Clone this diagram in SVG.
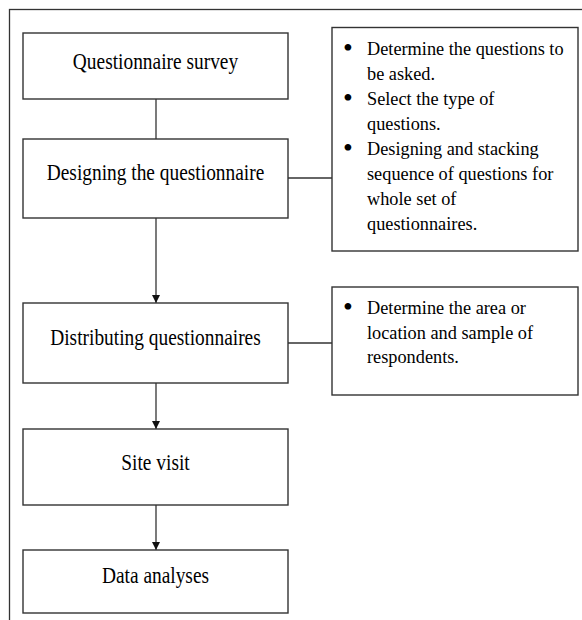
<svg xmlns="http://www.w3.org/2000/svg" width="582" height="620" viewBox="0 0 582 620">
<defs>
<style>
.box{fill:#fff;stroke:#333;stroke-width:1.4}
.ln{fill:none;stroke:#333;stroke-width:1.3}
.t{font-family:"Liberation Serif","Times New Roman",serif;font-size:19.4px;fill:#000;text-anchor:middle}
.b{font-family:"Liberation Serif","Times New Roman",serif;font-size:18.3px;fill:#000}
.d{font-family:"Liberation Serif","Times New Roman",serif;font-size:28px;fill:#000;text-anchor:middle}
</style>
<marker id="ah" viewBox="0 0 10 10" refX="10" refY="5" markerWidth="8" markerHeight="10" markerUnits="userSpaceOnUse" orient="auto">
<path d="M0,0 L10,5 L0,10 Z" fill="#111"/>
</marker>
</defs>
<rect x="0" y="0" width="582" height="620" fill="#fff"/>
<rect id="frame" x="9.5" y="9.5" width="620" height="700" fill="none" stroke="#333" stroke-width="1.3"/>
<g id="connectors">
<line class="ln" x1="156" y1="99" x2="156" y2="139"/>
<line class="ln" x1="156" y1="218" x2="156" y2="303" marker-end="url(#ah)"/>
<line class="ln" x1="156" y1="383" x2="156" y2="429" marker-end="url(#ah)"/>
<line class="ln" x1="156" y1="505" x2="156" y2="550" marker-end="url(#ah)"/>
<line class="ln" x1="288" y1="178" x2="332" y2="178"/>
<line class="ln" x1="288" y1="343" x2="332" y2="343"/>
</g>
<g id="n1"><rect class="box" x="23" y="33" width="265" height="66"/>
<text class="t" transform="translate(155.5,69) scale(1,1.22)">Questionnaire survey</text></g>
<g id="n2"><rect class="box" x="23" y="139" width="265" height="79"/>
<text class="t" transform="translate(155.5,180) scale(1,1.22)">Designing the questionnaire</text></g>
<g id="n3"><rect class="box" x="23" y="303" width="265" height="80"/>
<text class="t" transform="translate(155.5,345) scale(1,1.22)">Distributing questionnaires</text></g>
<g id="n4"><rect class="box" x="23" y="429" width="265" height="76"/>
<text class="t" transform="translate(155.5,470) scale(1,1.22)">Site visit</text></g>
<g id="n5"><rect class="box" x="23" y="550" width="265" height="63"/>
<text class="t" transform="translate(155.5,583) scale(1,1.22)">Data analyses</text></g>
<g id="note1"><rect class="box" x="332" y="27.5" width="246" height="223.5"/>
<text class="d" x="348" y="57">•</text>
<text class="d" x="348" y="107">•</text>
<text class="d" x="348" y="157">•</text>
<g class="b">
<text transform="translate(367,55) scale(1,1.06)">Determine the questions to</text>
<text transform="translate(367,80) scale(1,1.06)">be asked.</text>
<text transform="translate(367,105) scale(1,1.06)">Select the type of</text>
<text transform="translate(367,130) scale(1,1.06)">questions.</text>
<text transform="translate(367,155) scale(1,1.06)">Designing and stacking</text>
<text transform="translate(367,180) scale(1,1.06)">sequence of questions for</text>
<text transform="translate(367,205) scale(1,1.06)">whole set of</text>
<text transform="translate(367,230) scale(1,1.06)">questionnaires.</text>
</g></g>
<g id="note2"><rect class="box" x="332" y="287" width="246" height="108"/>
<text class="d" x="348" y="316">•</text>
<g class="b">
<text transform="translate(367,314) scale(1,1.06)">Determine the area or</text>
<text transform="translate(367,338.5) scale(1,1.06)">location and sample of</text>
<text transform="translate(367,363) scale(1,1.06)">respondents.</text>
</g></g>
</svg>
